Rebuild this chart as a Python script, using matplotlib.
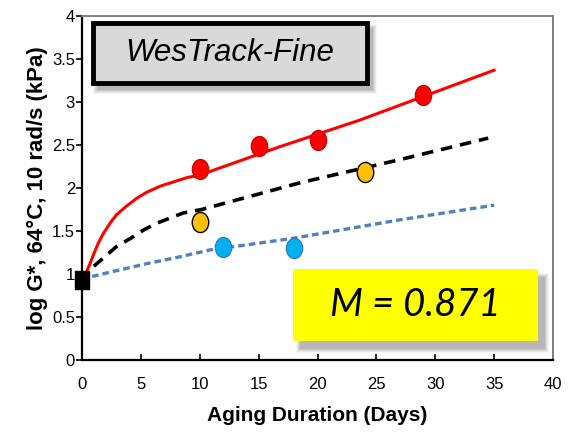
import numpy as np
import matplotlib.pyplot as plt
from matplotlib.path import Path
from matplotlib.transforms import Affine2D
from matplotlib.patches import Rectangle

# 测试数据点
red_days = [10, 15, 20, 29]
red_logG = [2.22, 2.49, 2.56, 3.08]
orange_days = [10, 24]
orange_logG = [1.60, 2.19]
blue_days = [12, 18]
blue_logG = [1.31, 1.30]
init_day = [0]
init_logG = [0.93]

# 拟合曲线（读取的曲线点）
red_fit_x = [0, 0.40, 0.68, 0.96, 1.39, 1.81, 2.38, 2.94, 3.79, 4.64, 5.49, 6.62,
             7.75, 8.89, 10.0, 16.8, 23.6, 35]
red_fit_y = [0.95, 1.03, 1.12, 1.22, 1.36, 1.47, 1.59, 1.69, 1.79, 1.88, 1.95, 2.02,
             2.07, 2.12, 2.15, 2.48, 2.79, 3.37]
black_fit_x = [1.0, 2.10, 2.94, 4.07, 5.21, 6.34, 7.47, 8.6, 10.16, 18.5, 27, 34.5]
black_fit_y = [1.09, 1.22, 1.32, 1.41, 1.51, 1.59, 1.65, 1.71, 1.75, 2.06, 2.33, 2.58]
blue_fit_x = [0, 0.82, 2.66, 5.49, 8.32, 10.87, 17.7, 27, 35]
blue_fit_y = [0.93, 0.97, 1.03, 1.12, 1.20, 1.28, 1.41, 1.63, 1.80]

title_text = 'WesTrack-Fine'
m_text = 'M = 0.871'

plt.rcParams['font.family'] = ['Liberation Sans Narrow', 'Liberation Sans', 'DejaVu Sans']

W, H = 572, 437
fig = plt.figure(figsize=(W / 100, H / 100), dpi=100)
ax = fig.add_axes([82 / W, 1 - 360 / H, (553 - 82) / W, (360 - 16) / H])

# 椭圆形标记
ellipse = Path.unit_circle().transformed(Affine2D().scale(0.82, 1.0))
tall_square = Path.unit_rectangle().transformed(Affine2D().translate(-0.5, -0.5).scale(0.78, 1.0))

ax.plot(red_fit_x, red_fit_y, color='#ff0000', lw=2.2, zorder=2)
ax.plot(black_fit_x, black_fit_y, color='black', lw=2.6, dashes=(3.2, 2.2), zorder=2)
ax.plot(blue_fit_x, blue_fit_y, color='#4f81bd', lw=2.4, dashes=(2.0, 1.2), zorder=2)

ax.plot(red_days, red_logG, ls='none', marker=ellipse, ms=14.5,
        mfc='#ff0000', mec='#c00000', mew=0.8, zorder=3)
ax.plot(orange_days, orange_logG, ls='none', marker=ellipse, ms=14.5,
        mfc='#ffc000', mec='black', mew=1.0, zorder=3)
ax.plot(blue_days, blue_logG, ls='none', marker=ellipse, ms=14.5,
        mfc='#00b0f0', mec='#2e75b6', mew=0.8, zorder=3)
ax.plot(init_day, init_logG, ls='none', marker=tall_square, ms=13,
        mfc='black', mec='black', zorder=4, clip_on=False)

ax.set_xlim(0, 40)
ax.set_ylim(0, 4)
ax.set_xticks(np.arange(0, 41, 5))
ax.set_yticks(np.arange(0, 4.01, 0.5))
ax.set_yticklabels(['0', '0.5', '1', '1.5', '2', '2.5', '3', '3.5', '4'])

ax.tick_params(axis='x', direction='in', length=4, width=1.2, pad=12, labelsize=12)
ax.tick_params(axis='y', direction='out', length=4, width=1.2, pad=1, labelsize=12)
for s in ['left', 'bottom']:
    ax.spines[s].set_color('black')
    ax.spines[s].set_linewidth(1.6)
for s in ['top', 'right']:
    ax.spines[s].set_color('#7f7f7f')
    ax.spines[s].set_linewidth(1.4)

ax.set_xlabel('Aging Duration (Days)', fontsize=15, fontweight='bold', labelpad=10)
ax.set_ylabel('log G*, 64°C, 10 rad/s (kPa)', fontsize=16, fontweight='bold', labelpad=3)


def px_box(x0, y0, x1, y1, **kw):
    """按像素坐标在图上加矩形"""
    r = Rectangle((x0 / W, 1 - y1 / H), (x1 - x0) / W, (y1 - y0) / H,
                  transform=fig.transFigure, **kw)
    fig.add_artist(r)
    return r


def shadow(x0, y0, x1, y1, dx=6, dy=6):
    # 模糊阴影
    for i, a in enumerate([0.06, 0.08, 0.10, 0.12, 0.14]):
        g = 4 - i
        px_box(x0 + dx - g, y0 + dy - g, x1 + dx + g, y1 + dy + g,
               facecolor='#555555', edgecolor='none', alpha=a, zorder=5)


# 标题框
shadow(92, 22, 368, 84, dx=5, dy=6)
px_box(93, 23, 367, 83, facecolor='#d9d9d9', edgecolor='black', lw=3.5, zorder=6)
fig.text((93 + 367) / 2 / W, 1 - 53 / H, title_text, ha='center', va='center',
         fontsize=22.5, style='italic', family=['Liberation Sans', 'DejaVu Sans'], zorder=7)

# M值框
shadow(293, 269, 538, 341, dx=7, dy=8)
px_box(293, 269, 538, 341, facecolor='#ffff00', edgecolor='none', zorder=6)
fig.text((293 + 538) / 2 / W, 1 - 305 / H, m_text, ha='center', va='center',
         fontsize=27.5, style='italic', family=['Lato', 'Open Sans', 'DejaVu Sans'], zorder=7)

fig.savefig('out.png', dpi=100)
